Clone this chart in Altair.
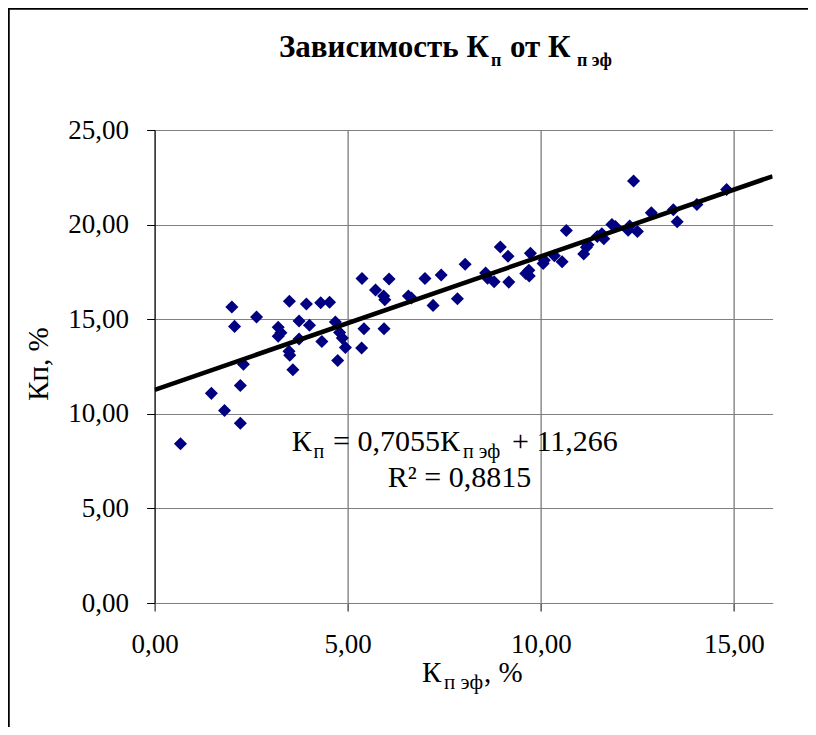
import altair as alt
import pandas as pd

# ---- data ----
kp_ef = [0.67, 1.47, 1.81, 2.00, 2.07, 2.22, 2.22, 2.30, 2.64, 3.20, 3.20, 3.27, 3.49, 3.48, 3.50,
         3.58, 3.74, 3.74, 3.93, 4.01, 4.30, 4.33, 4.53, 4.68, 4.74, 4.79, 4.86, 4.94, 5.37, 5.36,
         5.42, 5.72, 5.93, 5.96, 5.94, 6.07, 6.57, 6.65, 7.00, 7.21, 7.42, 7.84, 8.04, 8.57, 8.62,
         8.79, 8.95, 9.15, 9.17, 9.61, 9.69, 9.70, 9.73, 10.06, 10.09, 10.35, 10.55, 10.66, 11.11,
         11.18, 11.22, 11.46, 11.58, 11.63, 11.84, 11.93, 12.26, 12.30, 12.40, 12.50, 12.86, 13.43,
         13.53, 14.04, 14.81]
kp = [8.42, 11.08, 10.18, 15.64, 14.62, 11.50, 9.50, 12.62, 15.12, 14.58, 14.10, 14.28, 15.95, 13.30, 13.10,
      12.33, 14.90, 13.95, 15.80, 14.68, 15.87, 13.82, 15.90, 14.85, 12.82, 14.30, 14.00, 13.50, 17.15, 13.48,
      14.50, 16.54, 16.23, 16.03, 14.50, 17.12, 16.23, 16.12, 17.15, 15.73, 17.34, 16.08, 17.90, 17.44, 17.17,
      16.98, 18.82, 18.33, 16.96, 17.41, 17.59, 17.28, 18.48, 17.95, 18.12, 18.35, 18.04, 19.69, 18.45,
      18.80, 18.94, 19.37, 19.52, 19.25, 20.00, 19.90, 19.70, 19.92, 22.30, 19.63, 20.62, 20.78,
      20.15, 21.06, 21.86]

# trendline as given by the chart's equation: Kп = 0,7055·Kп эф + 11,266
trend_x = [0.0, 16.0]
trend_y = [11.266, 22.554]

x_ticks = [0, 5, 10, 15]
y_ticks = [0, 5, 10, 15, 20, 25]

title_parts = ["Зависимость К", "п", "от К", "п эф"]
eq_parts = ["К", "п", "= 0,7055К", "п эф", "+ 11,266"]
r2_text = "R² = 0,8815"
xtitle_parts = ["К", "п эф", ", %"]
ytitle_text = "Кп, %"

FONT = "Times New Roman, Liberation Serif, Tinos, DejaVu Serif, serif"
W, H = 618, 473

pts = pd.DataFrame({"kp_ef": kp_ef, "kp": kp})
trend = pd.DataFrame({"kp_ef": trend_x, "kp": trend_y})

label_expr = "replace(format(datum.value, '.2f'), '.', ',')"

xenc = alt.X("kp_ef:Q",
             scale=alt.Scale(domain=[0, 16], nice=False),
             axis=alt.Axis(values=x_ticks, labelExpr=label_expr, title=None, grid=True,
                           gridColor="#555555", gridWidth=1, tickColor="black", tickSize=8,
                           domainColor="#808080", labelFont=FONT, labelFontSize=27,
                           labelColor="black", labelPadding=20, labelOverlap=False,
                           labelFlush=False))
yenc = alt.Y("kp:Q",
             scale=alt.Scale(domain=[0, 25], nice=False),
             axis=alt.Axis(values=y_ticks, labelExpr=label_expr, title=None, grid=True,
                           gridColor="#808080", gridWidth=1, tickColor="black", tickSize=8,
                           domainColor="black", labelFont=FONT, labelFontSize=27,
                           labelColor="black", labelPadding=18, labelOverlap=False))

scatter = alt.Chart(pts).mark_point(shape="diamond", filled=True, size=170,
                                     color="#000080", opacity=1).encode(x=xenc, y=yenc)
line = alt.Chart(trend).mark_line(color="black", strokeWidth=4.5, clip=True).encode(
    x="kp_ef:Q", y="kp:Q")

one = pd.DataFrame({"a": [0]})


def txt(s, x, y, size, bold=False, align="left", baseline="alphabetic", angle=0):
    kw = dict(font=FONT, fontSize=size, fontWeight="bold" if bold else "normal",
              align=align, baseline=baseline, color="black")
    if angle:
        kw["angle"] = angle
    return alt.Chart(one).mark_text(text=s, **kw).encode(x=alt.value(x), y=alt.value(y))


OX, OY = 154.6, 130.0  # plot origin on the page
TOTAL_W, TOTAL_H = 800, 719

texts = [
    # title
    txt(title_parts[0], 279 - OX, 57 - OY, 31, bold=True),
    txt(title_parts[1], 491 - OX, 66 - OY, 18, bold=True),
    txt(title_parts[2], 510 - OX, 57 - OY, 31, bold=True),
    txt(title_parts[3], 577 - OX, 66 - OY, 18, bold=True),
    # equation
    txt(eq_parts[0], 291.7 - OX, 451 - OY, 30),
    txt(eq_parts[1], 313.5 - OX, 458 - OY, 20),
    txt(eq_parts[2], 333 - OX, 451 - OY, 30),
    txt(eq_parts[3], 463 - OX, 458 - OY, 20),
    txt(eq_parts[4], 512 - OX, 451 - OY, 30),
    txt(r2_text, 459.5 - OX, 487 - OY, 30, align="center"),
    # x title
    txt(xtitle_parts[0], 422 - OX, 682 - OY, 29),
    txt(xtitle_parts[1], 444 - OX, 689 - OY, 21),
    txt(xtitle_parts[2], 484 - OX, 682 - OY, 29),
    # y title
    txt(ytitle_text, 39 - OX, 364 - OY, 29, align="center", baseline="middle", angle=270),
]

# outer frame: only the left and top edges fall inside the picture
frame_left = alt.Chart(one).mark_rule(color="black", strokeWidth=2.5).encode(
    x=alt.value(8.5 - OX), y=alt.value(7.5 - OY), y2=alt.value(700))
frame_top = alt.Chart(one).mark_rule(color="black", strokeWidth=2.5).encode(
    x=alt.value(7.5 - OX), x2=alt.value(760), y=alt.value(8.5 - OY))
# white strip along the right edge of the canvas
edge_mask = alt.Chart(one).mark_rule(color="white", strokeWidth=4).encode(
    x=alt.value(TOTAL_W + 8 - OX - 1.5), y=alt.value(11 - OY), y2=alt.value(700))

chart = alt.layer(frame_left, frame_top, edge_mask, scatter, line, *texts).properties(
    width=W, height=H,
    padding={"left": OX - 8, "top": OY - 8, "right": TOTAL_W - W - (OX - 8),
             "bottom": TOTAL_H - H - (OY - 8)},
    autosize="none",
).configure_view(stroke=None)

chart.save("out.html", embed_options={"renderer": "svg", "actions": False})
